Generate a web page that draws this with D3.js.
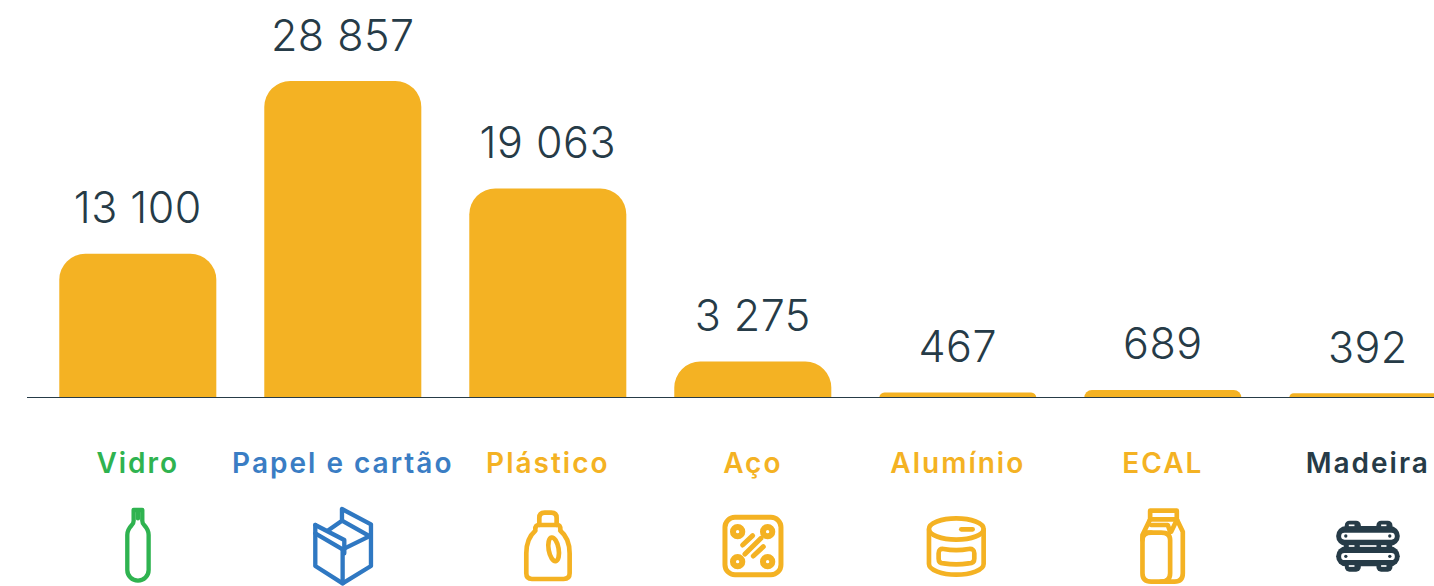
<!DOCTYPE html>
<html><head><meta charset="utf-8">
<script src="https://cdn.jsdelivr.net/npm/d3@7"></script>
<style>html,body{margin:0;background:#fff}svg{display:block}</style></head>
<body><svg id="c" width="1434" height="586"></svg>
<script>
const categories = ["Vidro","Papel e cartão","Plástico","Aço","Alumínio","ECAL","Madeira"];
const values = [13100,28857,19063,3275,467,689,392];
const valueLabels = ["13 100","28 857","19 063","3 275","467","689","392"];
const labelColors = ["#2FB350","#3A7DC4","#F4B223","#F4B223","#F4B223","#F4B223","#263B47"];
const AMBER="#F4B223", DARK="#263B47", FONT="Inter, sans-serif";

const svg = d3.select("#c");
const x = d3.scaleBand().domain(categories).range([35.3,1470.3]).paddingInner(0.234).paddingOuter(0.117);
const y = d3.scaleLinear().domain([0,28857]).range([397.5,81]);

svg.selectAll("path.bar").data(categories).join("path").attr("class","bar").attr("fill",AMBER)
  .attr("d",(c,i)=>{
    const x0=x(c),w=x.bandwidth(),t=y(values[i]),b=y(0),r=Math.min(26,(b-t));
    return `M${x0},${b}V${t+r}A${r},${r} 0 0 1 ${x0+r},${t}H${x0+w-r}A${r},${r} 0 0 1 ${x0+w},${t+r}V${b}Z`;
  });
svg.append("line").attr("x1",27).attr("x2",1434).attr("y1",397.5).attr("y2",397.5).attr("stroke",DARK).attr("stroke-width",1.2);

svg.selectAll("text.v").data(categories).join("text").attr("class","v")
  .attr("x",c=>x(c)+x.bandwidth()/2).attr("y",(c,i)=>y(values[i])-30.5)
  .attr("text-anchor","middle").attr("fill",DARK)
  .style("font",`300 43px ${FONT}`).style("letter-spacing","0.5px").text((c,i)=>valueLabels[i]);
svg.selectAll("text.l").data(categories).join("text").attr("class","l")
  .attr("x",c=>x(c)+x.bandwidth()/2).attr("y",473)
  .attr("text-anchor","middle").attr("fill",(c,i)=>labelColors[i])
  .style("font",`600 28px ${FONT}`).style("letter-spacing","2px").text(c=>c);

// icons: drawn in a 3x local space
const icons = [
 {c:172.5,col:"#2FB350",sw:13,paths:["M160,60H186V92Q186,100 192,106Q205,120 205,135V240A32,32 0 0 1 141,240V135Q141,120 154,106Q160,100 160,92Z","M173,62V85"]},
 {c:790.5,col:"#2F78C2",sw:13,paths:[
  "M708,105V228L790,280L875,228V103L788,57V92L745,122","M708,105L795,150V190","M708,130L790,178L868,140","M790,178V280","M788,92L868,137"]},
 {c:142.5,col:AMBER,sw:14,paths:[
  "M117,105V84Q117,68 133,68H153Q169,68 169,84V105","M105,118Q105,105 115,105H172Q180,105 180,118","M105,122Q78,145 78,190V250Q78,267 95,267H190Q208,267 208,250V190Q208,145 180,122"],
  ell:[[160,178,15,36,-10]]},
 {c:760.5,col:AMBER,sw:15,rect:[677,82,168,172,30],dots:[[715,125],[805,125],[715,215],[805,215]],
  paths:["M730,165L760,137","M737,192L785,145","M762,198L792,170"]},
 {c:172.5,col:AMBER,sw:14,paths:[
  "M86,120V222C86,240 125,254 168,254C211,254 250,240 250,222V120",
  "M130,177Q168,184 205,177Q222,175 222,190V206Q222,220 205,220Q168,226 130,220Q115,220 115,206V190Q115,175 130,177Z",
  "M183,118H217"],
  ell:[[168,117,82,32,0]]},
 {c:775,col:AMBER,sw:14,paths:[
  "M737,88V62H817V88L835,125V250Q835,275 810,275H740Q714,275 714,250V135Z",
  "M737,88H817","M740,105H790L797,125","M725,128H770Q797,128 797,150V250Q797,275 770,275","M740,128Q714,128 714,150","M817,90L800,125"]},
 {c:1372,col:DARK,sw:14,wood:true,paths:[]}
];
const g = svg.selectAll("g.icon").data(categories).join("g").attr("class","icon").attr("fill","none")
  .attr("stroke-linecap","round").attr("stroke-linejoin","round")
  .attr("transform",(c,i)=>`translate(${x(c)+x.bandwidth()/2-icons[i].c/3},490) scale(${1/3})`);
g.each(function(c,i){
  const ic=icons[i], s=d3.select(this).attr("stroke",ic.col).attr("stroke-width",ic.sw);
  if(ic.rect){const r=ic.rect;s.append("rect").attr("x",r[0]).attr("y",r[1]).attr("width",r[2]).attr("height",r[3]).attr("rx",r[4]);}
  (ic.ell||[]).forEach(e=>s.append("ellipse").attr("cx",e[0]).attr("cy",e[1]).attr("rx",e[2]).attr("ry",e[3]).attr("transform",`rotate(${e[4]} ${e[0]} ${e[1]})`));
  (ic.dots||[]).forEach(d=>s.append("circle").attr("cx",d[0]).attr("cy",d[1]).attr("r",14).attr("stroke-width",18));
  ic.paths.forEach(p=>s.append("path").attr("d",p));
  if(ic.wood){
    s.attr("stroke",null);
    [[1303,92],[1398,92],[1303,205],[1398,205]].forEach(r=>s.append("rect").attr("x",r[0]).attr("y",r[1]).attr("width",48).attr("height",40).attr("rx",14).attr("fill",DARK));
    s.append("rect").attr("x",1300).attr("y",150).attr("width",145).attr("height",36).attr("fill",DARK);
    [[1277,108],[1277,169]].forEach(r=>{
      s.append("rect").attr("x",r[0]).attr("y",r[1]).attr("width",191).attr("height",60).attr("rx",30).attr("fill",DARK);
      s.append("rect").attr("x",r[0]+15).attr("y",r[1]+20).attr("width",161).attr("height",21).attr("rx",10).attr("fill","#fff");
    });
    [[1306,138],[1438,138],[1306,199],[1438,199]].forEach(d=>s.append("circle").attr("cx",d[0]).attr("cy",d[1]).attr("r",5).attr("fill",DARK));
    [[1315,1332,106],[1412,1428,106],[1315,1332,168],[1348,1398,168],[1412,1428,168],[1315,1332,228],[1412,1428,228]].forEach(l=>
      s.append("line").attr("x1",l[0]).attr("x2",l[1]).attr("y1",l[2]).attr("y2",l[2]).attr("stroke","#fff").attr("stroke-width",5).attr("stroke-linecap","butt"));
  }
});
</script></body></html>
